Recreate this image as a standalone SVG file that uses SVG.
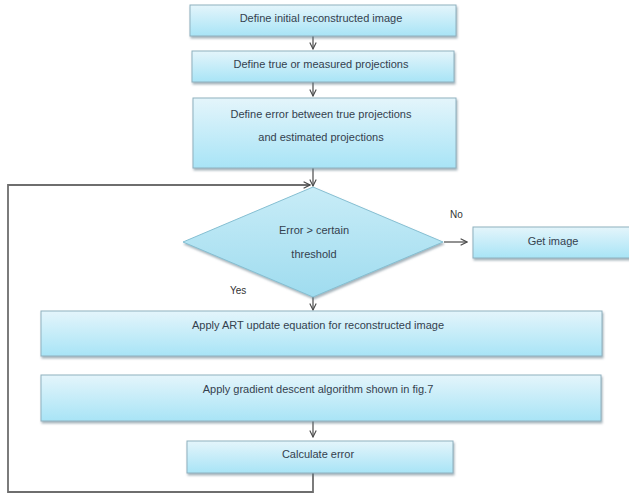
<svg xmlns="http://www.w3.org/2000/svg" width="629" height="499" viewBox="0 0 629 499">
  <defs>
    <linearGradient id="boxFill" x1="0" y1="0" x2="0" y2="1">
      <stop offset="0" stop-color="#e4f5fb"/>
      <stop offset="1" stop-color="#a8e4f6"/>
    </linearGradient>
    <linearGradient id="diamondFill" x1="0" y1="0" x2="0" y2="1">
      <stop offset="0" stop-color="#c8ecf7"/>
      <stop offset="1" stop-color="#9fdcef"/>
    </linearGradient>
    <filter id="shadow" x="-5%" y="-10%" width="110%" height="130%">
      <feDropShadow dx="1" dy="2" stdDeviation="1" flood-color="#5b7683" flood-opacity="0.55"/>
    </filter>
    <marker id="arrow" viewBox="0 0 10 10" refX="9" refY="5" markerWidth="8" markerHeight="8" orient="auto" markerUnits="userSpaceOnUse">
      <path d="M1,1 L9,5 L1,9" fill="none" stroke="#4a4a4a" stroke-width="1.4"/>
    </marker>
  </defs>
  <style>
    .box { fill: url(#boxFill); stroke: #8fb1bf; stroke-width: 1; filter: url(#shadow); }
    .dia { fill: url(#diamondFill); stroke: #86bfd2; stroke-width: 1; filter: url(#shadow); }
    .lbl { font-family: "Liberation Sans", Arial, sans-serif; font-size: 11px; fill: #34414e; text-anchor: middle; }
    .note { font-family: "Liberation Sans", Arial, sans-serif; font-size: 10px; fill: #333; }
    .edge { fill: none; stroke: #4a4a4a; stroke-width: 1.2; }
    .loop { fill: none; stroke: #6e6e6e; stroke-width: 1.8; }
  </style>

  <!-- connectors -->
  <g id="connectors">
    <line class="edge" x1="313" y1="36" x2="313" y2="49" marker-end="url(#arrow)"/>
    <line class="edge" x1="313" y1="82" x2="313" y2="96" marker-end="url(#arrow)"/>
    <line class="edge" x1="313" y1="168" x2="313" y2="186" marker-end="url(#arrow)"/>
    <line class="edge" x1="444" y1="242" x2="467" y2="242" marker-end="url(#arrow)"/>
    <line class="edge" x1="313" y1="297" x2="313" y2="310" marker-end="url(#arrow)"/>
    <line class="edge" x1="313" y1="421" x2="313" y2="437" marker-end="url(#arrow)"/>
    <polyline class="loop" points="313,473 313,492 8,492 8,185 310,185" marker-end="url(#arrow)"/>
    <text class="note" x="450" y="218">No</text>
    <text class="note" x="230" y="294">Yes</text>
  </g>

  <g id="init">
    <rect class="box" x="190" y="5" width="266" height="31"/>
    <text class="lbl" x="321" y="22">Define initial reconstructed image</text>
  </g>

  <g id="measured">
    <rect class="box" x="192" y="51" width="262" height="31"/>
    <text class="lbl" x="321" y="68">Define true or measured projections</text>
  </g>

  <g id="define-error">
    <rect class="box" x="193" y="98" width="263" height="70"/>
    <text class="lbl" x="321" y="118">Define error between true projections</text>
    <text class="lbl" x="321" y="141">and estimated projections</text>
  </g>

  <g id="decision">
    <polygon class="dia" points="313,187 443,242 313,297 183,242"/>
    <text class="lbl" x="314" y="234">Error &gt; certain</text>
    <text class="lbl" x="314" y="258">threshold</text>
  </g>

  <g id="get-image">
    <rect class="box" x="473" y="227" width="160" height="31"/>
    <text class="lbl" x="553" y="245">Get image</text>
  </g>

  <g id="art-update">
    <rect class="box" x="41" y="311" width="561" height="45"/>
    <text class="lbl" x="318" y="329">Apply ART update equation for reconstructed image</text>
  </g>

  <g id="gradient">
    <rect class="box" x="41" y="375" width="560" height="46"/>
    <text class="lbl" x="318" y="393">Apply gradient descent algorithm shown in fig.7</text>
  </g>

  <g id="calc-error">
    <rect class="box" x="187" y="441" width="266" height="32"/>
    <text class="lbl" x="318" y="458">Calculate error</text>
  </g>
</svg>
